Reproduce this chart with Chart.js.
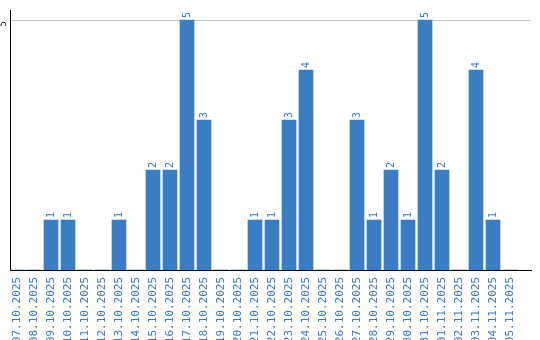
<!DOCTYPE html>
<html>
<head>
<meta charset="utf-8">
<script src="https://cdn.jsdelivr.net/npm/chart.js@4.4.1/dist/chart.umd.min.js"></script>
<style>
html,body{margin:0;padding:0;background:#fff;}
#wrap{width:540px;height:340px;position:relative;}
</style>
</head>
<body>
<div id="wrap"><canvas id="c" width="540" height="340"></canvas></div>
<script>
const categories = ["07.10.2025","08.10.2025","09.10.2025","10.10.2025","11.10.2025","12.10.2025","13.10.2025","14.10.2025","15.10.2025","16.10.2025","17.10.2025","18.10.2025","19.10.2025","20.10.2025","21.10.2025","22.10.2025","23.10.2025","24.10.2025","25.10.2025","26.10.2025","27.10.2025","28.10.2025","29.10.2025","30.10.2025","31.10.2025","01.11.2025","02.11.2025","03.11.2025","04.11.2025","05.11.2025"];
const counts = [0,0,1,1,0,0,1,0,2,2,5,3,0,0,1,1,3,4,0,0,3,1,2,1,5,2,0,4,1,0];
const yTickLabels = [5];

const BLUE = '#3b7dc3';
const LABEL_BLUE = '#3a7cc6';

const extras = {
  id: 'extras',
  afterDatasetsDraw(chart) {
    const ctx = chart.ctx;
    const meta = chart.getDatasetMeta(0);
    ctx.save();
    ctx.font = '10px "DejaVu Sans Mono"';
    ctx.fillStyle = LABEL_BLUE;
    meta.data.forEach((bar, i) => {
      const v = counts[i];
      if (!v) return;
      ctx.save();
      ctx.translate(bar.x, bar.y - 2);
      ctx.rotate(-Math.PI / 2);
      ctx.textAlign = 'left';
      ctx.textBaseline = 'middle';
      ctx.fillText(String(v), 0, 0);
      ctx.restore();
    });
    const ys = chart.scales.y;
    ctx.fillStyle = '#222';
    ctx.font = '9px "DejaVu Sans Mono"';
    yTickLabels.forEach(t => {
      ctx.save();
      ctx.translate(4, ys.getPixelForValue(t) + 1);
      ctx.rotate(-Math.PI / 2);
      ctx.textAlign = 'right';
      ctx.textBaseline = 'middle';
      ctx.fillText(String(t), 0, 0);
      ctx.restore();
    });
    ctx.restore();
  }
};

new Chart(document.getElementById('c'), {
  type: 'bar',
  data: {
    datasets: [{
      data: counts.map((v, i) => ({x: i, y: v})),
      backgroundColor: BLUE,
      borderWidth: 0,
      barThickness: 14
    }]
  },
  options: {
    responsive: false,
    animation: false,
    layout: {padding: {top: 10, right: 9, left: 0, bottom: 0}},
    plugins: {legend: {display: false}, tooltip: {enabled: false}},
    scales: {
      x: {
        type: 'linear',
        min: -7 / 17,
        max: 514 / 17,
        offset: false,
        grid: {display: false, drawTicks: false},
        border: {color: '#000', width: 1},
        afterBuildTicks: s => { s.ticks = categories.map((_, i) => ({value: i})); },
        afterFit: s => { s.height = 70; },
        ticks: {
          autoSkip: false,
          minRotation: 90,
          maxRotation: 90,
          padding: 7,
          color: LABEL_BLUE,
          font: {family: '"DejaVu Sans Mono"', size: 11},
          callback: v => categories[v] ?? ''
        }
      },
      y: {
        min: 0,
        max: 5.2,
        afterBuildTicks: s => { s.ticks = yTickLabels.map(v => ({value: v})); },
        afterFit: s => { s.width = 10; },
        grid: {color: '#c8c8c8', drawTicks: false},
        border: {color: '#000', width: 1},
        ticks: {display: false}
      }
    }
  },
  plugins: [extras]
});
</script>
</body>
</html>
